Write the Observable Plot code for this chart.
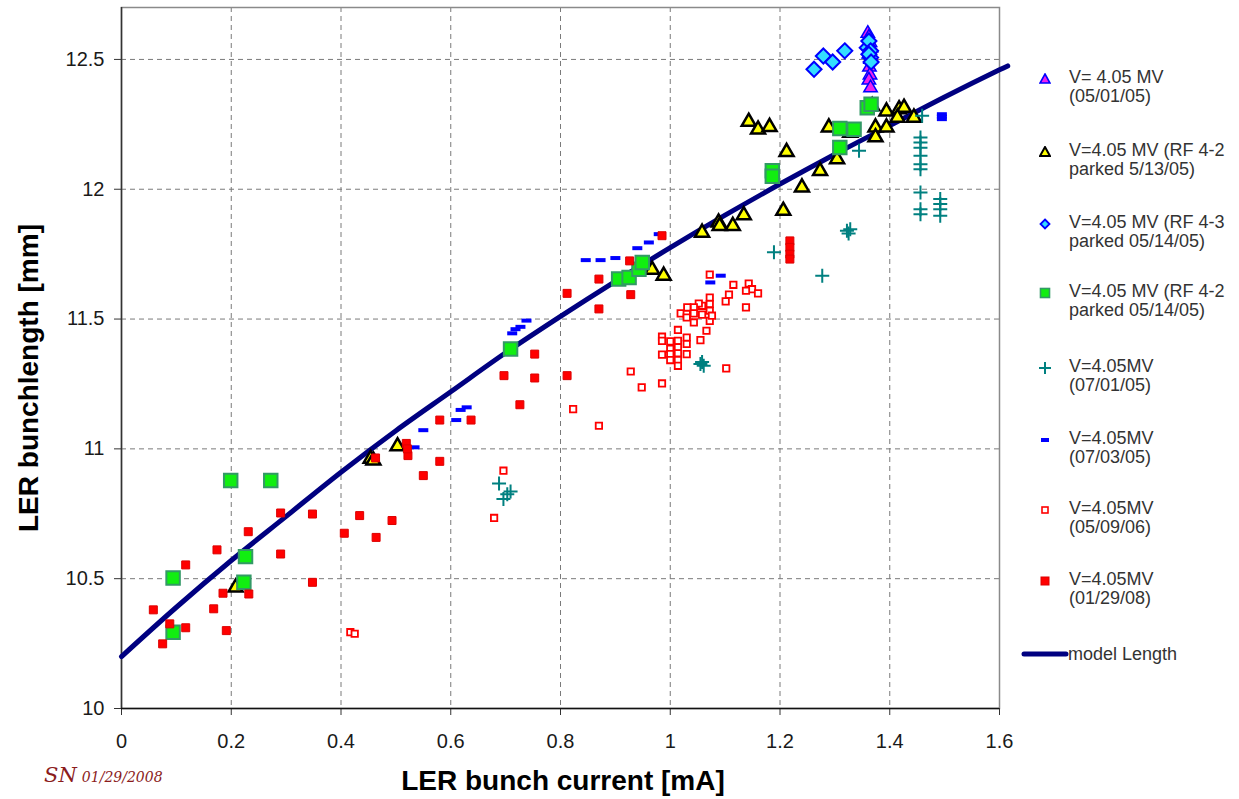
<!DOCTYPE html>
<html><head><meta charset="utf-8">
<script src="https://cdn.jsdelivr.net/npm/d3@7"></script>
<script src="https://cdn.jsdelivr.net/npm/@observablehq/plot@0.6"></script>
<style>
body{margin:0;background:#fff;font-family:"Liberation Sans",Arial,sans-serif;}
#wrap{position:relative;width:1239px;height:799px;overflow:hidden;background:#fff}
.t{position:absolute;white-space:nowrap}
.leg{position:absolute;left:1069px;font-size:18px;line-height:19.5px;color:#333;white-space:nowrap}
.sym{position:absolute}
</style></head><body><div id="wrap"></div>
<script>
// ---------- data ----------
const xTicks = [0, 0.2, 0.4, 0.6, 0.8, 1, 1.2, 1.4, 1.6];
const yTicks = [10, 10.5, 11, 11.5, 12, 12.5];
const xTitle = "LER bunch current [mA]";
const yTitle = "LER bunchlength [mm]";
const seriesNames = [
  ["V= 4.05 MV", "(05/01/05)"],
  ["V=4.05 MV (RF 4-2", "parked 5/13/05)"],
  ["V=4.05 MV (RF 4-3", "parked 05/14/05)"],
  ["V=4.05 MV (RF 4-2", "parked 05/14/05)"],
  ["V=4.05MV", "(07/01/05)"],
  ["V=4.05MV", "(07/03/05)"],
  ["V=4.05MV", "(05/09/06)"],
  ["V=4.05MV", "(01/29/08)"]
];
const modelName = "model Length";

// V= 4.05 MV (05/01/05)
const s1x = [1.360, 1.362, 1.364, 1.366, 1.362, 1.365, 1.363, 1.364, 1.362, 1.365];
const s1y = [12.60, 12.585, 12.565, 12.545, 12.52, 12.50, 12.47, 12.44, 12.42, 12.39];
// V=4.05 MV (RF 4-2 parked 5/13/05)
const s2x = [0.208, 0.454, 0.459, 0.503, 0.967, 0.988, 1.058, 1.088, 1.090, 1.114, 1.134, 1.143, 1.160, 1.181, 1.212, 1.206, 1.240, 1.273, 1.289, 1.304, 1.328, 1.374, 1.374, 1.394, 1.394, 1.368, 1.417, 1.426, 1.414, 1.444];
const s2y = [10.466, 10.962, 10.955, 11.010, 11.690, 11.667, 11.833, 11.872, 11.859, 11.859, 11.900, 12.260, 12.230, 12.240, 12.144, 11.917, 12.007, 12.070, 12.238, 12.116, 12.218, 12.238, 12.200, 12.238, 12.300, 12.320, 12.308, 12.314, 12.276, 12.276];
// V=4.05 MV (RF 4-3 parked 05/14/05)
const s3x = [1.262, 1.279, 1.296, 1.318, 1.359, 1.362, 1.365, 1.365, 1.362, 1.366];
const s3y = [12.462, 12.513, 12.490, 12.533, 12.545, 12.571, 12.533, 12.507, 12.520, 12.490];
// V=4.05 MV (RF 4-2 parked 05/14/05)
const s4x = [0.094, 0.094, 0.226, 0.223, 0.199, 0.272, 0.709, 0.906, 0.925, 0.943, 0.949, 1.186, 1.186, 1.309, 1.335, 1.309, 1.359, 1.366];
const s4y = [10.503, 10.294, 10.585, 10.486, 10.878, 10.878, 11.385, 11.654, 11.660, 11.692, 11.718, 12.071, 12.050, 12.234, 12.231, 12.161, 12.314, 12.327];
// V=4.05MV (07/01/05)
const s5x = [0.688, 0.696, 0.709, 0.703, 1.055, 1.061, 1.058, 1.189, 1.277, 1.322, 1.328, 1.325, 1.344, 1.459, 1.456, 1.456, 1.456, 1.456, 1.456, 1.456, 1.456, 1.456, 1.456, 1.492, 1.492, 1.492, 1.492];
const s5y = [10.867, 10.807, 10.836, 10.825, 11.327, 11.320, 11.335, 11.757, 11.667, 11.840, 11.846, 11.830, 12.148, 12.283, 12.199, 12.180, 12.160, 12.129, 12.096, 12.077, 11.987, 11.923, 11.904, 11.962, 11.943, 11.923, 11.898];
// V=4.05MV (07/03/05)
const s6x = [0.534, 0.550, 0.610, 0.618, 0.629, 0.712, 0.718, 0.727, 0.738, 0.846, 0.873, 0.900, 0.940, 0.961, 0.979, 1.073, 1.092, 1.495, 1.495, 1.495];
const s6y = [11.006, 11.072, 11.111, 11.150, 11.160, 11.445, 11.461, 11.470, 11.494, 11.727, 11.727, 11.735, 11.773, 11.795, 11.827, 11.641, 11.667, 12.289, 12.270, 12.280];
// V=4.05MV (05/09/06)
const s7x = [0.417, 0.425, 0.696, 0.679, 0.823, 0.870, 0.928, 0.948, 0.985, 1.072, 1.115, 1.143, 1.149, 1.160, 1.138, 1.107, 1.101, 1.138, 1.072, 1.072, 1.072, 1.072, 1.058, 1.052, 1.043, 1.031, 1.019, 1.030, 1.043, 1.058, 1.076, 1.030, 1.043, 1.066, 1.055, 1.014, 0.985, 0.985, 1.000, 1.014, 1.030, 1.030, 1.014, 1.000, 0.985, 1.000, 1.014, 1.030, 1.000, 1.014, 1.014, 1.102];
const s7y = [10.294, 10.288, 10.916, 10.734, 11.153, 11.089, 11.298, 11.237, 11.252, 11.671, 11.632, 11.637, 11.615, 11.599, 11.609, 11.594, 11.568, 11.545, 11.583, 11.558, 11.532, 11.493, 11.551, 11.560, 11.545, 11.545, 11.522, 11.519, 11.522, 11.517, 11.513, 11.506, 11.487, 11.455, 11.419, 11.458, 11.432, 11.416, 11.414, 11.416, 11.429, 11.404, 11.391, 11.385, 11.363, 11.365, 11.368, 11.365, 11.342, 11.342, 11.320, 11.310];
// V=4.05MV (01/29/08)
const s8x = [0.058, 0.075, 0.088, 0.117, 0.117, 0.174, 0.168, 0.185, 0.191, 0.231, 0.232, 0.290, 0.290, 0.348, 0.348, 0.406, 0.434, 0.464, 0.493, 0.463, 0.519, 0.522, 0.521, 0.550, 0.580, 0.580, 0.637, 0.697, 0.726, 0.753, 0.753, 0.812, 0.812, 0.870, 0.870, 0.928, 0.926, 0.985, 1.218, 1.218, 1.218, 1.218];
const s8y = [10.380, 10.249, 10.326, 10.311, 10.553, 10.611, 10.384, 10.444, 10.300, 10.681, 10.441, 10.595, 10.753, 10.486, 10.749, 10.675, 10.743, 10.659, 10.724, 10.965, 11.021, 10.974, 11.000, 10.897, 11.111, 10.952, 11.111, 11.282, 11.170, 11.365, 11.273, 11.599, 11.282, 11.654, 11.539, 11.594, 11.724, 11.821, 11.801, 11.776, 11.750, 11.731];
// model Length
const modelX = [0, 0.1, 0.2, 0.3, 0.4, 0.5, 0.6, 0.7, 0.8, 0.9, 1.0, 1.1, 1.2, 1.3, 1.4, 1.5, 1.6, 1.615];
const modelY = [10.20, 10.39, 10.57, 10.74, 10.91, 11.07, 11.22, 11.37, 11.51, 11.645, 11.775, 11.90, 12.02, 12.135, 12.245, 12.355, 12.46, 12.475];

// ---------- build ----------
const pts = (xs, ys) => xs.map((x, i) => ({x, y: ys[i]}));
const dashSym = {draw(ctx) { ctx.rect(-5, -2, 10, 4); }};
const plusSym = {draw(ctx) { ctx.moveTo(-7, 0); ctx.lineTo(7, 0); ctx.moveTo(0, -7); ctx.lineTo(0, 7); }};
const font = "Liberation Sans, Arial, sans-serif";

const chart = Plot.plot({
  width: 1239, height: 799,
  marginLeft: 121, marginRight: 240, marginTop: 7, marginBottom: 91,
  x: {domain: [0, 1.6]},
  y: {domain: [10, 12.7]},
  style: {fontFamily: font, fontSize: "20px", color: "#1a1a1a", background: "transparent", overflow: "visible"},
  marks: [
    Plot.ruleX(xTicks.slice(1, -1), {stroke: "#7a7a7a", strokeWidth: 1, strokeDasharray: "5,4"}),
    Plot.ruleY(yTicks.slice(1), {stroke: "#7a7a7a", strokeWidth: 1, strokeDasharray: "5,4"}),
    Plot.frame({stroke: "#8a8a8a", strokeWidth: 1.5}),
    Plot.axisX({ticks: xTicks, tickFormat: d => String(d), tickSize: 7, tickPadding: 18, label: null, fontSize: 20, stroke: "#333"}),
    Plot.axisY({ticks: yTicks, tickFormat: d => String(d), tickSize: 7, tickPadding: 10, label: null, fontSize: 20, stroke: "#333"}),
    Plot.ruleX([0], {stroke: "#333", strokeWidth: 1.5}),
    Plot.ruleY([10], {stroke: "#111", strokeWidth: 1.5}),
    Plot.line(pts(modelX, modelY), {x: "x", y: "y", stroke: "#000080", strokeWidth: 5, curve: "catmull-rom"}),
    Plot.dot(pts(s1x, s1y), {x: "x", y: "y", symbol: "triangle", r: 5, fill: "#ee22ee", stroke: "#0000ff", strokeWidth: 1.5}),
    Plot.dot(pts(s2x, s2y), {x: "x", y: "y", symbol: "triangle", r: 5.2, fill: "#ffff00", stroke: "#000", strokeWidth: 2.5}),
    Plot.dot(pts(s3x, s3y), {x: "x", y: "y", symbol: "diamond2", r: 6.8, fill: "#33ddff", stroke: "#0000ff", strokeWidth: 2}),
    Plot.dot(pts(s4x, s4y), {x: "x", y: "y", symbol: "square", r: 7.6, fill: "#11ee11", stroke: "#339966", strokeWidth: 2}),
    Plot.dot(pts(s5x, s5y), {x: "x", y: "y", symbol: plusSym, r: 7, fill: "none", stroke: "#008080", strokeWidth: 2}),
    Plot.dot(pts(s6x, s6y), {x: "x", y: "y", symbol: dashSym, r: 3, fill: "#0000ff", stroke: "none"}),
    Plot.dot(pts(s7x, s7y), {x: "x", y: "y", symbol: "square", r: 3.6, fill: "#fff", stroke: "#ff0000", strokeWidth: 1.8}),
    Plot.dot(pts(s8x, s8y), {x: "x", y: "y", symbol: "square", r: 4.5, fill: "#ff0000", stroke: "#dd0000", strokeWidth: 1})
  ]
});

const wrap = document.getElementById("wrap");
chart.style.position = "absolute";
chart.style.left = "0px";
chart.style.top = "0px";
wrap.appendChild(chart);

// axis titles
const xt = document.createElement("div");
xt.className = "t";
xt.textContent = xTitle;
Object.assign(xt.style, {left: "563px", top: "781px", transform: "translate(-50%,-50%)", fontSize: "28px", fontWeight: "bold", lineHeight: "28px", color: "#000"});
wrap.appendChild(xt);
const yt = document.createElement("div");
yt.className = "t";
yt.textContent = yTitle;
Object.assign(yt.style, {left: "28.5px", top: "378px", transform: "translate(-50%,-50%) rotate(-90deg)", fontSize: "28px", fontWeight: "bold", lineHeight: "28px", color: "#000"});
wrap.appendChild(yt);

// signature
const sig = document.createElement("div");
sig.className = "t";
sig.innerHTML = '<span style="font-size:21px">SN</span> <span style="font-size:14px">01/29/2008</span>';
Object.assign(sig.style, {left: "44px", top: "763px", fontFamily: "DejaVu Serif, serif", fontStyle: "italic", color: "#8b1c1c", lineHeight: "24px"});
wrap.appendChild(sig);

// legend
const capTops = [70.7, 144, 216, 285, 360, 431.7, 502, 573];
const symSvg = [
  '<polygon points="6,1 11,10 1,10" fill="#ee22ee" stroke="#0000ff" stroke-width="1.6"/>',
  '<polygon points="6,1 11,10 1,10" fill="#ffff00" stroke="#000" stroke-width="2"/>',
  '<polygon points="6,1.5 10.5,6 6,10.5 1.5,6" fill="#33ddff" stroke="#0000ff" stroke-width="1.8"/>',
  '<rect x="1.5" y="1.5" width="9" height="9" fill="#11ee11" stroke="#339966" stroke-width="1.6"/>',
  '<path d="M0,6H12M6,0V12" stroke="#008080" stroke-width="2"/>',
  '<rect x="2" y="4" width="8" height="4" fill="#0000ff"/>',
  '<rect x="3" y="3" width="6" height="6" fill="#fff" stroke="#ff0000" stroke-width="1.6"/>',
  '<rect x="2" y="2" width="8" height="8" fill="#ff0000" stroke="#dd0000" stroke-width="1"/>'
];
seriesNames.forEach((lines, i) => {
  const d = document.createElement("div");
  d.className = "leg";
  d.style.top = (capTops[i] - 3.1) + "px";
  d.innerHTML = lines[0] + "<br>" + lines[1];
  wrap.appendChild(d);
  const s = document.createElement("div");
  s.className = "sym";
  s.style.left = (1045 - 6) + "px";
  s.style.top = (capTops[i] + 6.4 - 6) + "px";
  s.innerHTML = '<svg width="12" height="12" viewBox="0 0 12 12">' + symSvg[i] + '</svg>';
  wrap.appendChild(s);
});
const ml = document.createElement("div");
ml.className = "sym";
ml.style.left = "1020px";
ml.style.top = "646px";
ml.innerHTML = '<svg width="50" height="12"><line x1="4" y1="6" x2="46" y2="6" stroke="#000080" stroke-width="5" stroke-linecap="round"/></svg>';
wrap.appendChild(ml);
const mt = document.createElement("div");
mt.className = "leg";
mt.style.left = "1068px";
mt.style.top = (648 - 3.1) + "px";
mt.textContent = modelName;
wrap.appendChild(mt);
</script></body></html>
